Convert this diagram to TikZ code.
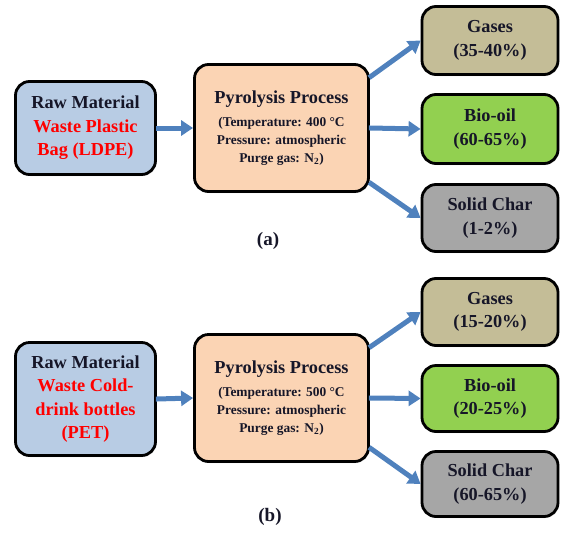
\documentclass[tikz,border=0pt]{standalone}
\usepackage{fontspec}
\setmainfont{Liberation Serif}
\usetikzlibrary{arrows.meta,shadows}
\definecolor{rawc}{RGB}{184,204,228}
\definecolor{pyroc}{RGB}{251,212,180}
\definecolor{gasc}{RGB}{196,189,151}
\definecolor{bioc}{RGB}{146,208,80}
\definecolor{charc}{RGB}{166,166,166}
\definecolor{arrc}{RGB}{79,129,189}
\definecolor{txtc}{RGB}{22,22,40}
\definecolor{redc}{RGB}{255,0,0}
\tikzset{
  boxbase/.style={draw=black, line width=2.8pt, rounded corners=14pt, inner sep=0pt,
    align=center, text=txtc, font=\bfseries\fontsize{18.3}{23.5}\selectfont,
    drop shadow={opacity=0.35, shadow xshift=1pt, shadow yshift=-1.5pt}},
  rawbox/.style={boxbase, fill=rawc, minimum width=140pt},
  pyrobox/.style={boxbase, fill=pyroc, minimum width=174pt, minimum height=127pt},
  prodbox/.style={boxbase, minimum width=136pt},
  flow/.style={draw=arrc, line width=5pt, -{Triangle[length=12pt,width=15pt]}, shorten <=-1pt},
  caplabel/.style={text=txtc, font=\bfseries\fontsize{19}{22}\selectfont}
}
\newcommand{\smalltxt}{\fontsize{13.4}{17}\selectfont}
\begin{document}
\begin{tikzpicture}[x=1pt,y=-1pt]
\useasboundingbox (0,0) rectangle (561,535);
% ---- panel (a)
\node[rawbox, minimum height=93pt] (ra) at (85.5,128) {Raw Material\\\textcolor{redc}{Waste Plastic}\\\textcolor{redc}{Bag (LDPE)}};
\node[pyrobox] (pa) at (281.5,128) {Pyrolysis Process\\[-1pt]{\smalltxt (Temperature: 400 °C}\\[-5.5pt]{\smalltxt Pressure: atmospheric}\\[-5.5pt]{\smalltxt Purge gas: N\textsubscript{2})}};
\node[prodbox, fill=gasc, minimum height=68pt] (ga) at (490,40.5) {Gases\\(35-40\%)};
\node[prodbox, fill=bioc, minimum height=69pt] (ba) at (490,129) {Bio-oil\\(60-65\%)};
\node[prodbox, fill=charc, minimum height=67pt] (sa) at (490,218) {Solid Char\\(1-2\%)};
\node[caplabel] (la) at (268,241) {(a)};
\draw[flow] (ra.east) -- (pa.west);
\draw[flow] ([yshift=-14pt]pa.north east) -- (ga.west);
\draw[flow] (pa.east) -- (ba.west);
\draw[flow] ([yshift=10pt]pa.south east) -- (sa.west);
% ---- panel (b)
\node[rawbox, minimum height=113pt] (rb) at (85.5,399) {Raw Material\\\textcolor{redc}{Waste Cold-}\\\textcolor{redc}{drink bottles}\\\textcolor{redc}{(PET)}};
\node[pyrobox] (pb) at (281.5,398) {Pyrolysis Process\\[-1pt]{\smalltxt (Temperature: 500 °C}\\[-5.5pt]{\smalltxt Pressure: atmospheric}\\[-5.5pt]{\smalltxt Purge gas: N\textsubscript{2})}};
\node[prodbox, fill=gasc, minimum height=67pt] (gb) at (490,312) {Gases\\(15-20\%)};
\node[prodbox, fill=bioc, minimum height=66pt] (bb) at (490,398.5) {Bio-oil\\(20-25\%)};
\node[prodbox, fill=charc, minimum height=65pt] (sb) at (490,484) {Solid Char\\(60-65\%)};
\node[caplabel] (lb) at (270,517) {(b)};
\draw[flow] (rb.east) -- (pb.west);
\draw[flow] ([yshift=-14pt]pb.north east) -- (gb.west);
\draw[flow] (pb.east) -- (bb.west);
\draw[flow] ([yshift=15pt]pb.south east) -- (sb.west);
\end{tikzpicture}
\end{document}
